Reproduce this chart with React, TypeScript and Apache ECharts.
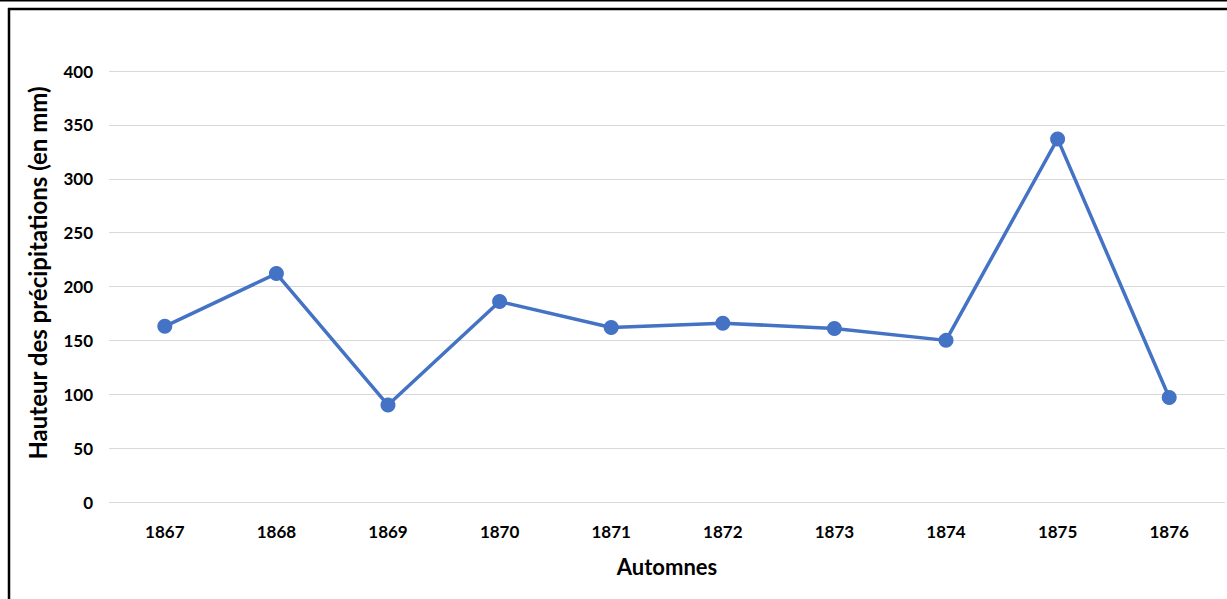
import React, { useEffect, useRef } from "react";
import * as echarts from "echarts";

const categories = ["1867", "1868", "1869", "1870", "1871", "1872", "1873", "1874", "1875", "1876"];
const precipitation = [163, 212, 90, 186, 162, 166, 161, 150, 337, 97];
const yTicks = { min: 0, max: 400, interval: 50 };
const xAxisName = "Automnes";
const yAxisName = "Hauteur des précipitations (en mm)";

const FONT = "Lato";

export default function App() {
  const ref = useRef<HTMLDivElement>(null);
  useEffect(() => {
    if (!ref.current) return;
    const chart = echarts.init(ref.current, undefined, { renderer: "svg" });
    chart.setOption({
      animation: false,
      backgroundColor: "#ffffff",
      grid: { left: 109, right: 2, top: 71, bottom: 97, containLabel: false },
      xAxis: {
        type: "category",
        data: categories,
        boundaryGap: true,
        axisLine: { show: false },
        axisTick: { show: false },
        axisLabel: { color: "#000", fontFamily: FONT, fontWeight: "bold", fontSize: 17, margin: 21 },
        name: xAxisName,
        nameLocation: "middle",
        nameGap: 53,
        nameTextStyle: { color: "#000", fontFamily: FONT, fontWeight: "bold", fontSize: 22 },
      },
      yAxis: {
        type: "value",
        min: yTicks.min,
        max: yTicks.max,
        interval: yTicks.interval,
        axisLine: { show: false },
        axisTick: { show: false },
        splitLine: { lineStyle: { color: "#d9d9d9", width: 1 } },
        axisLabel: { color: "#000", fontFamily: FONT, fontWeight: "bold", fontSize: 17, margin: 16 },
      },
      series: [
        {
          type: "line",
          data: precipitation,
          symbol: "circle",
          symbolSize: 15,
          lineStyle: { color: "#4472C4", width: 3.5 },
          itemStyle: { color: "#4472C4" },
        },
      ],
      graphic: [
        { type: "rect", shape: { x: 0, y: 0, width: 1227, height: 1.5 }, style: { fill: "#000" } },
        { type: "line", shape: { x1: 8, y1: 9, x2: 1227, y2: 9 }, style: { stroke: "#000", lineWidth: 2.5 } },
        { type: "line", shape: { x1: 9, y1: 8, x2: 9, y2: 599 }, style: { stroke: "#000", lineWidth: 2.5 } },
        {
          type: "text",
          x: 37,
          y: 273,
          rotation: Math.PI / 2,
          style: {
            text: yAxisName,
            fill: "#000",
            font: `bold 24px ${FONT}`,
            align: "center",
            verticalAlign: "middle",
          },
        },
      ],
    });
    return () => chart.dispose();
  }, []);
  return (
    <div
      ref={ref}
      style={{ position: "fixed", left: 0, top: 0, width: 1227, height: 599 }}
    />
  );
}
